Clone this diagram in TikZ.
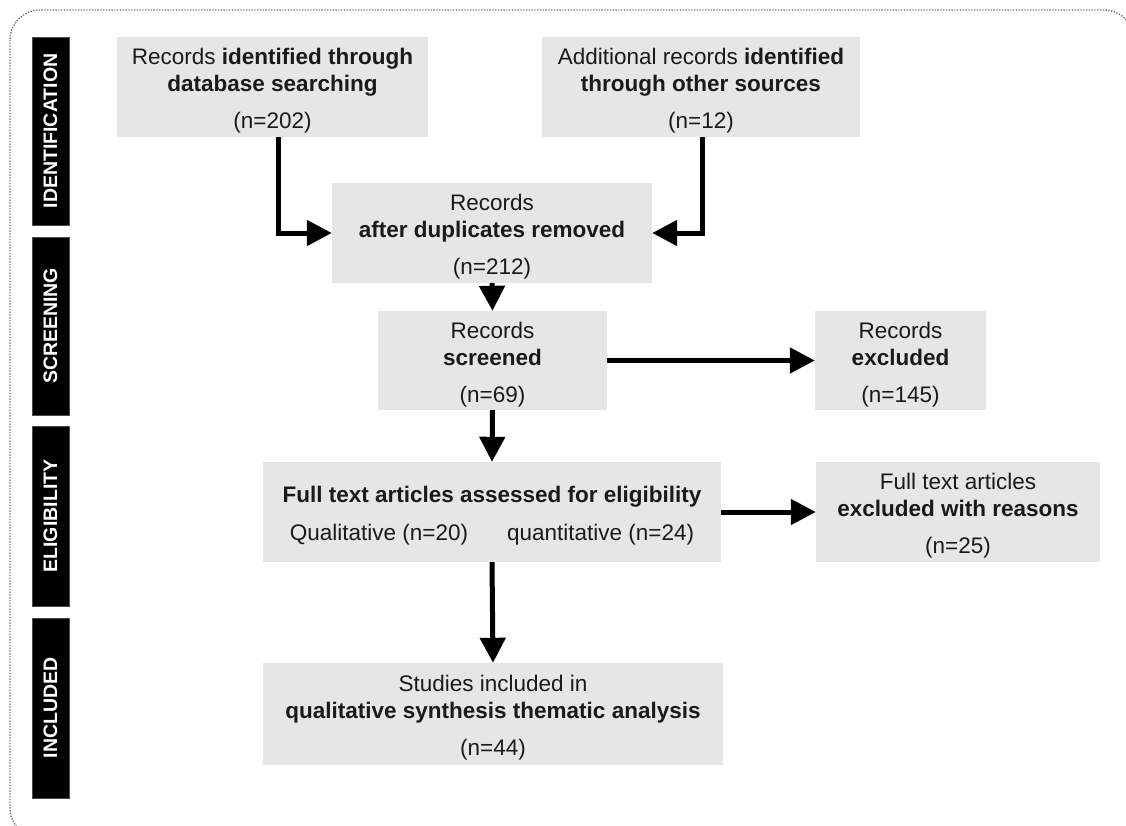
\documentclass[tikz,border=0pt]{standalone}
\usepackage{fontspec}
\setmainfont{Liberation Sans}
\usetikzlibrary{arrows.meta}
\definecolor{boxgray}{HTML}{E6E6E6}
\definecolor{inktext}{HTML}{1A1A1A}
\definecolor{framegray}{HTML}{7A7A7A}
% taller first line, so the text sits a little lower in its box
\newcommand{\boxstrut}{\rule{0pt}{24.5pt}}
\begin{document}
\begin{tikzpicture}[x=1pt,y=-1pt,
  flowbox/.style={fill=boxgray, draw=none, inner sep=0pt, align=center,
    text=inktext, font=\fontsize{22.5}{27}\selectfont},
  phasebar/.style={fill=black, draw=black!70, line width=0.6pt, inner sep=0pt,
    minimum height=37pt, rotate=90, text=white,
    font=\fontsize{19.5}{22}\selectfont\bfseries},
  flowarrow/.style={line width=5pt, -{Triangle[length=25pt,width=25pt]}, black}
]
\useasboundingbox (0,0) rectangle (1126,825);

% outer dotted frame
\draw[framegray, line width=1.4pt, dash pattern=on 1.4pt off 1.4pt, rounded corners=30pt]
  (10,10) rectangle (1134,838);

% phase labels on the left
\node[phasebar, minimum width=188pt] (pid)  at (50.5,131)   {IDENTIFICATION};
\node[phasebar, minimum width=178pt] (pscr) at (50.5,326)   {SCREENING};
\node[phasebar, minimum width=180pt] (pel)  at (50.5,516)   {ELIGIBILITY};
\node[phasebar, minimum width=180pt] (pinc) at (50.5,708)   {INCLUDED};

% flow boxes
\node[flowbox, minimum width=311pt, minimum height=100pt] (db) at (272.5,87)
  {\boxstrut Records \textbf{identified through}\\ \textbf{database searching}\\[10pt](n=202)};
\node[flowbox, minimum width=318pt, minimum height=100pt] (other) at (701,87)
  {\boxstrut Additional records \textbf{identified}\\ \textbf{through other sources}\\[10pt](n=12)};
\node[flowbox, minimum width=320pt, minimum height=100pt] (dup) at (492,233)
  {\boxstrut Records\\ \textbf{after duplicates removed}\\[10pt](n=212)};
\node[flowbox, minimum width=229pt, minimum height=99pt] (scr) at (492.5,360.5)
  {\boxstrut Records\\ \textbf{screened}\\[10pt](n=69)};
\node[flowbox, minimum width=171pt, minimum height=99pt] (exc) at (900.5,360.5)
  {\boxstrut Records\\ \textbf{excluded}\\[10pt](n=145)};
\node[flowbox, minimum width=458pt, minimum height=100pt] (full) at (492,512)
  {\boxstrut\textbf{Full text articles assessed for eligibility}\\[11pt]
   Qualitative (n=20)\hspace{39pt}quantitative (n=24)};
\node[flowbox, minimum width=284pt, minimum height=100pt] (fexc) at (958,512)
  {\boxstrut Full text articles\\ \textbf{excluded with reasons}\\[10pt](n=25)};
\node[flowbox, minimum width=460pt, minimum height=102pt] (inc) at (493,714)
  {\boxstrut Studies included in\\ \textbf{qualitative synthesis thematic analysis}\\[10pt](n=44)};

% connectors
\draw[flowarrow] ([xshift=6pt]db.south) |- (dup.west);
\draw[flowarrow] ([xshift=1pt]other.south) |- (dup.east);
\draw[flowarrow] (dup.south) -- (scr.north);
\draw[flowarrow] (scr.east) -- (exc.west);
\draw[flowarrow] (scr.south) -- (full.north);
\draw[flowarrow] (full.east) -- (fexc.west);
\draw[flowarrow] (full.south) -- (inc.north);
\end{tikzpicture}
\end{document}
